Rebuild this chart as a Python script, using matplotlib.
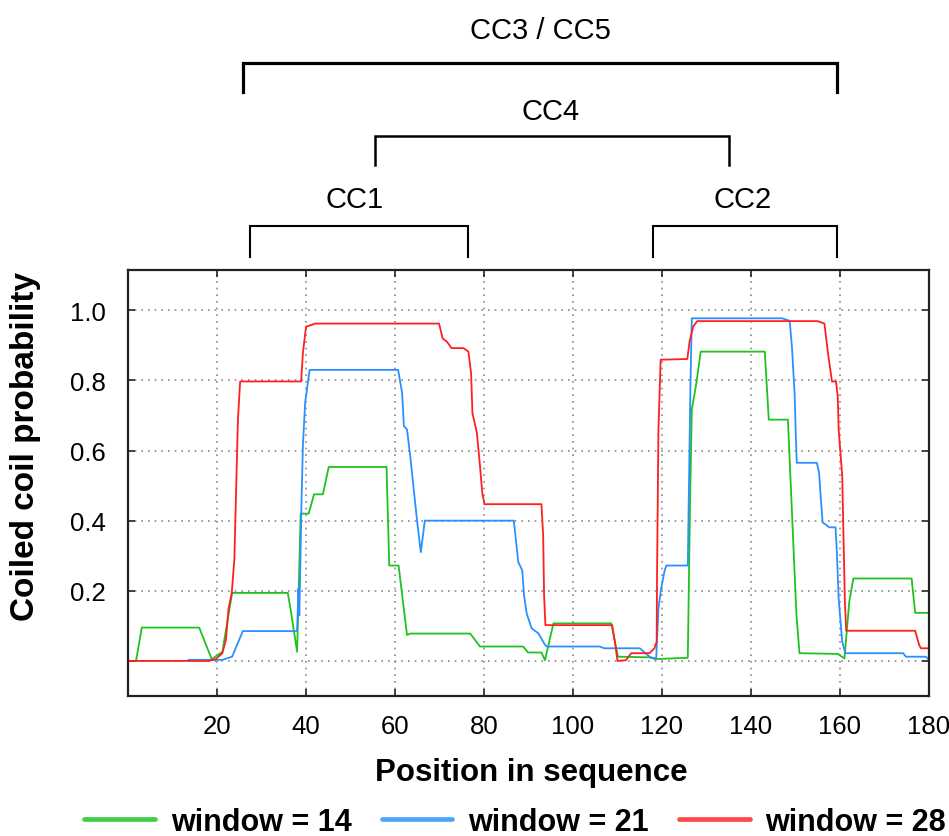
import matplotlib
matplotlib.use("Agg")
import matplotlib.pyplot as plt
from matplotlib.transforms import blended_transform_factory

plt.rcParams['font.family'] = ['Liberation Sans', 'DejaVu Sans']

# ── data (breakpoints of the step-like profiles) ─────────────────────────────
green_x = [1.8, 3.1, 16.0, 18.8, 21.2, 23.4, 35.9, 36.5, 38.0, 38.8, 40.6, 41.8,
           43.8, 45.1, 58.1, 58.7, 60.8, 62.7, 63.5, 76.9, 79.1, 88.8, 89.9, 92.9,
           93.7, 95.6, 108.6, 110.1, 117.6, 118.4, 125.8, 126.3, 126.7, 127.7,
           128.7, 143.1, 144.0, 148.3, 150.2, 150.9, 159.5, 161.0, 162.1, 163.0,
           176.1, 176.9, 180.0]
green_y = [0.0, 0.095, 0.095, 0.005, 0.026, 0.194, 0.194, 0.15, 0.026, 0.42, 0.42,
           0.475, 0.475, 0.553, 0.553, 0.272, 0.272, 0.074, 0.078, 0.078, 0.041,
           0.041, 0.024, 0.024, 0.002, 0.107, 0.107, 0.012, 0.010, 0.005, 0.009,
           0.447, 0.717, 0.79, 0.882, 0.882, 0.688, 0.688, 0.135, 0.022, 0.020,
           0.007, 0.17, 0.235, 0.235, 0.137, 0.137]

blue_x = [13.6, 21.2, 23.4, 25.8, 38.0, 38.3, 38.5, 39.0, 39.3, 39.8, 40.8, 60.7,
          61.6, 62.0, 62.7, 63.5, 64.2, 65.0, 65.8, 66.7, 86.7, 87.7, 88.6, 89.0,
          89.6, 90.7, 92.2, 93.7, 94.1, 106.0, 107.0, 115.0, 117.6, 118.7, 119.2,
          119.8, 120.6, 121.0, 125.8, 126.0, 126.4, 126.7, 147.0, 148.7, 149.2,
          149.8, 150.1, 150.3, 154.8, 155.3, 155.6, 156.1, 157.6, 159.0, 159.3,
          159.7, 160.5, 161.2, 174.2, 174.8, 179.3, 180.0]
blue_y = [0.003, 0.003, 0.012, 0.085, 0.085, 0.206, 0.13, 0.46, 0.613, 0.736, 0.83,
          0.83, 0.764, 0.67, 0.66, 0.575, 0.49, 0.395, 0.31, 0.40, 0.40, 0.282,
          0.258, 0.187, 0.135, 0.093, 0.079, 0.046, 0.041, 0.041, 0.036, 0.036,
          0.008, 0.008, 0.15, 0.206, 0.258, 0.272, 0.272, 0.447, 0.79, 0.977,
          0.977, 0.970, 0.896, 0.764, 0.632, 0.565, 0.565, 0.537, 0.48, 0.395,
          0.381, 0.381, 0.31, 0.178, 0.055, 0.022, 0.022, 0.012, 0.012, 0.003]

red_x = [0.0, 18.2, 19.7, 21.2, 22.0, 22.6, 23.3, 23.9, 24.3, 24.7, 25.2, 38.9,
         39.3, 40.0, 42.1, 69.9, 70.7, 71.7, 72.7, 75.4, 76.5, 77.1, 77.4, 78.4,
         79.1, 79.6, 80.1, 92.9, 93.3, 93.5, 93.8, 108.8, 109.4, 110.0, 111.9,
         113.1, 117.2, 118.3, 118.8, 118.9, 119.2, 119.7, 125.7, 126.2, 127.0,
         127.9, 155.0, 156.5, 157.3, 158.2, 159.1, 159.5, 159.7, 160.5, 160.8,
         161.1, 161.4, 176.9, 177.8, 178.2, 180.0]
red_y = [0.0, 0.0, 0.005, 0.022, 0.06, 0.15, 0.192, 0.291, 0.49, 0.688, 0.797,
         0.797, 0.878, 0.953, 0.962, 0.962, 0.92, 0.91, 0.892, 0.892, 0.882, 0.82,
         0.707, 0.65, 0.556, 0.48, 0.447, 0.447, 0.357, 0.187, 0.102, 0.102,
         0.055, 0.0, 0.002, 0.022, 0.022, 0.036, 0.055, 0.263, 0.66, 0.859, 0.861,
         0.911, 0.953, 0.969, 0.969, 0.962, 0.878, 0.797, 0.797, 0.755, 0.66,
         0.528, 0.348, 0.17, 0.086, 0.086, 0.045, 0.036, 0.036]

series_labels = ["window = 14", "window = 21", "window = 28"]
series_colors = ["#1fc21f", "#2891ff", "#ff1f1f"]
legend_colors = ["#44cc44", "#4aa6ff", "#ff4848"]

xticks = [0, 20, 40, 60, 80, 100, 120, 140, 160, 180]
yticks = [0.0, 0.2, 0.4, 0.6, 0.8, 1.0]

# coiled-coil regions: (label, start, end)
region_names = ["CC3 / CC5", "CC4", "CC1", "CC2"]
region_start = [25.9, 55.5, 27.5, 118.0]
region_end = [159.4, 135.0, 76.4, 159.4]

# ── figure ───────────────────────────────────────────────────────────────────
fig = plt.figure(figsize=(9.49, 8.37), dpi=100)
ax = fig.add_axes([0.1349, 0.1673, 0.8440, 0.5090])

for xs, ys, lab, col in zip([green_x, blue_x, red_x], [green_y, blue_y, red_y],
                            series_labels, series_colors):
    ax.plot(xs, ys, color=col, lw=1.3, label=lab)

ax.set_xlim(0, 180)
ax.set_ylim(-0.1, 1.115)
ax.set_xticks(xticks)
ax.set_xticklabels([""] + [str(v) for v in xticks[1:]])
ax.set_yticks(yticks)
ax.set_yticklabels([""] + [f"{v:.1f}" for v in yticks[1:]])
ax.tick_params(direction="in", length=5, width=1.2, top=True, right=True,
               labelsize=18.5, color="#222222")
ax.tick_params(axis="x", pad=13)
ax.tick_params(axis="y", pad=16)
ax.grid(True, color="#8a8a8a", lw=1.2, linestyle=(0, (1, 3)))
for sp in ax.spines.values():
    sp.set_linewidth(1.6)
    sp.set_color("#222222")

fig.text(0.560, 0.0765, "Position in sequence", ha="center", va="center",
         fontsize=22.5, fontweight="bold")
fig.text(0.027, 0.467, "Coiled coil probability", ha="center", va="center",
         rotation=90, fontsize=24, fontweight="bold")

# ── brackets above the axes ──────────────────────────────────────────────────
tr = blended_transform_factory(ax.transData, fig.transFigure)
bar_top = [0.9235, 0.8363, 0.7288, 0.7288]
bar_bot = [0.889, 0.8017, 0.6920, 0.6920]
text_y = [0.963, 0.866, 0.761, 0.761]
bar_lw = [2.3, 1.8, 1.5, 1.5]
text_x = [92.7, 95.0, 51.0, 138.2]
for name, x0, x1, yt, yb, ty, lw, tx in zip(region_names, region_start, region_end,
                                           bar_top, bar_bot, text_y, bar_lw, text_x):
    ax.plot([x0, x0, x1, x1], [yb, yt, yt, yb], color="black", lw=lw,
            transform=tr, clip_on=False, solid_joinstyle="miter")
    ax.text(tx, ty, name, transform=tr, ha="center", va="center", fontsize=21)

leg = fig.legend(loc="center", bbox_to_anchor=(0.543, 0.017), ncol=3,
                 frameon=False, prop={"weight": "bold", "size": 22},
                 handlelength=2.3, handletextpad=0.52, columnspacing=1.0,
                 borderpad=0, borderaxespad=0)
for line, col in zip(leg.get_lines(), legend_colors):
    line.set_linewidth(3.4)
    line.set_color(col)
    line.set_solid_capstyle("round")

fig.savefig("out.png", dpi=100)
